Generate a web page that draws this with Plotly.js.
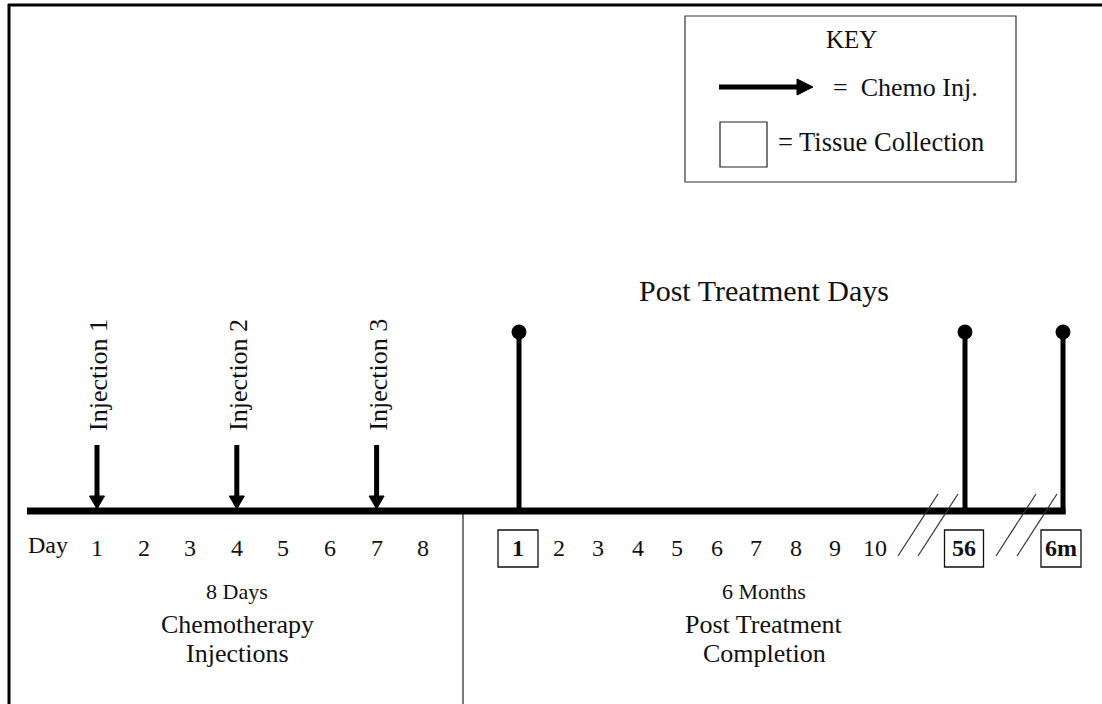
<!DOCTYPE html>
<html>
<head>
<meta charset="utf-8">
<script src="https://cdn.plot.ly/plotly-3.0.1.min.js"></script>
<style>html,body{margin:0;padding:0;background:#fff;}#chart{width:1102px;height:704px;}</style>
</head>
<body>
<div id="chart"></div>
<script>
// ---- data ----
const chemoDays = [1, 2, 3, 4, 5, 6, 7, 8];
const injectionDays = [1, 4, 7];
const injectionLabels = ['Injection 1', 'Injection 2', 'Injection 3'];
const postDays = [1, 2, 3, 4, 5, 6, 7, 8, 9, 10];
const collectionLabels = ['1', '56', '6m'];
const phaseLabels = ['8 Days', '6 Months'];
const phaseTitles = [['Chemotherapy', 'Injections'], ['Post Treatment', 'Completion']];
const keyLabels = ['KEY', '=\u00a0 Chemo Inj.', '= Tissue Collection'];
const sectionTitle = 'Post Treatment Days';

// ---- layout helpers (schematic positions) ----
const FONT = 'Liberation Serif, Times New Roman, serif';
const INK = '#111';
const lineY = 511;
const chemoX = d => 97 + (d - 1) * 46.6;
const postX = d => 519 + (d - 1) * 39.5;
const collectionX = [postX(1), 965, 1063];
const labelY = 548;

const shapes = [];
const annotations = [];
const traces = [];

function txt(x, y, text, size, opts) {
  annotations.push(Object.assign({
    x: x, y: y, xref: 'x', yref: 'y', text: text, showarrow: false,
    font: {family: FONT, size: size, color: INK}, xanchor: 'center', yanchor: 'middle'
  }, opts || {}));
}
function line(x0, y0, x1, y1, w, c) {
  shapes.push({type: 'line', xref: 'x', yref: 'y', x0: x0, y0: y0, x1: x1, y1: y1,
    line: {color: c || INK, width: w}});
}

// outer frame (top + left)
line(8, 5, 1102, 5, 3, '#000');
line(9, 4, 9, 704, 3, '#000');

// separator between phases
line(463, 514, 463, 704, 2, '#7a7a7a');

// main timeline
line(27, lineY, collectionX[2] + 2.5, lineY, 7, '#000');

// injection arrows
injectionDays.forEach((d, i) => {
  const x = chemoX(d);
  line(x, 445, x, 498, 5, '#000');
  shapes.push({type: 'path', xref: 'x', yref: 'y',
    path: `M ${x - 7.5} 496 L ${x + 7.5} 496 L ${x} 509 Z`,
    fillcolor: '#000', line: {color: '#000', width: 1}});
  txt(x + 1, 375, injectionLabels[i], 26, {textangle: -90});
});

// collection lollipops (lines + dots as a trace)
const lx = [], ly = [];
collectionX.forEach(x => { lx.push(x, x, null); ly.push(lineY + 3, 332, null); });
traces.push({x: lx, y: ly, mode: 'lines', line: {color: '#000', width: 5},
  hoverinfo: 'skip', showlegend: false});
traces.push({x: collectionX, y: collectionX.map(() => 332), mode: 'markers',
  marker: {color: '#000', size: 15}, hoverinfo: 'skip', showlegend: false});

// break slashes
[[898, 918], [996, 1017]].forEach(pair => {
  pair.forEach(x => line(x, 556, x + 40, 494, 1.2, '#333'));
});

// Day labels
txt(48, 545, 'Day', 24);
chemoDays.forEach(d => txt(chemoX(d), labelY, String(d), 24));
postDays.slice(1).forEach(d => txt(postX(d), labelY, String(d), 24));

// collection boxes with bold labels
const boxW = [40, 39, 40];
collectionLabels.forEach((lab, i) => {
  const cx = i === 0 ? collectionX[0] - 1 : (i === 1 ? 964 : 1061);
  shapes.push({type: 'rect', xref: 'x', yref: 'y',
    x0: cx - boxW[i] / 2, x1: cx + boxW[i] / 2, y0: 530, y1: 567,
    line: {color: '#111', width: 1.3}, fillcolor: 'rgba(0,0,0,0)'});
  txt(cx, labelY, '<b>' + lab + '</b>', 24);
});

// phase captions
const phaseX = [237, 764];
phaseLabels.forEach((p, i) => {
  txt(phaseX[i], 591, p, 22);
  txt(phaseX[i], 624, phaseTitles[i][0], 26);
  txt(phaseX[i], 653, phaseTitles[i][1], 26);
});

// section title
txt(764, 290, sectionTitle, 30);

// key box
shapes.push({type: 'rect', xref: 'x', yref: 'y', x0: 685, x1: 1016, y0: 16, y1: 182,
  line: {color: '#333', width: 1.2}, fillcolor: 'rgba(0,0,0,0)'});
txt(851, 39, keyLabels[0], 25);
line(719, 87, 799, 87, 5, '#000');
shapes.push({type: 'path', xref: 'x', yref: 'y',
  path: 'M 797 79 L 813 87 L 797 95 Z', fillcolor: '#000', line: {color: '#000', width: 1}});
txt(831, 87, keyLabels[1], 26, {xanchor: 'left'});
shapes.push({type: 'rect', xref: 'x', yref: 'y', x0: 720, x1: 767, y0: 122, y1: 167,
  line: {color: '#222', width: 1.2}, fillcolor: 'rgba(0,0,0,0)'});
txt(776, 142, keyLabels[2], 26.5, {xanchor: 'left'});

const layout = {
  width: 1102, height: 704,
  margin: {l: 0, r: 0, t: 0, b: 0, pad: 0},
  paper_bgcolor: '#fff', plot_bgcolor: '#fff',
  xaxis: {range: [0, 1102], visible: false, fixedrange: true},
  yaxis: {range: [704, 0], visible: false, fixedrange: true},
  shapes: shapes, annotations: annotations, showlegend: false
};
Plotly.newPlot('chart', traces, layout, {staticPlot: true, displayModeBar: false});
</script>
</body>
</html>
